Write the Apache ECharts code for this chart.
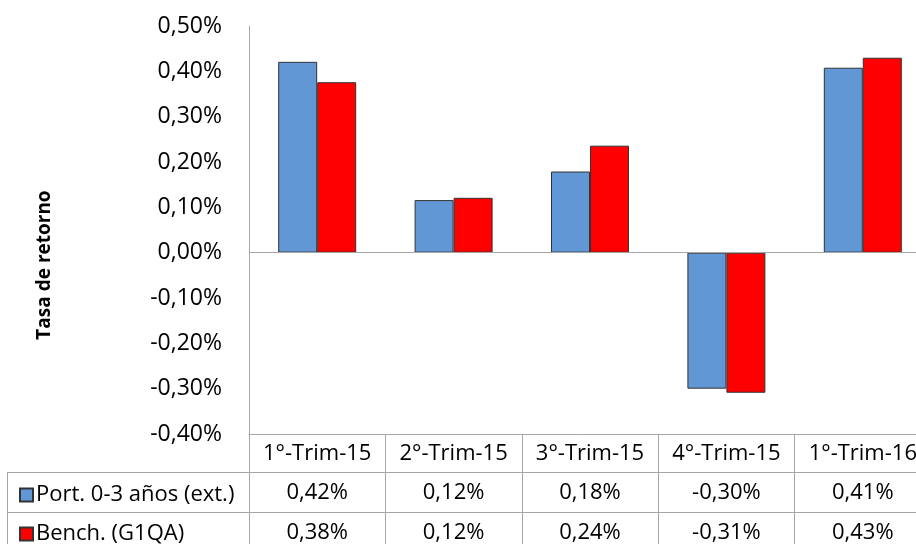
<!DOCTYPE html>
<html>
<head>
<meta charset="utf-8">
<script src="https://cdn.jsdelivr.net/npm/echarts@6/dist/echarts.min.js"></script>
<style>
  html, body { margin: 0; padding: 0; background: #fff; }
  #chart { width: 916px; height: 544px; }
</style>
</head>
<body>
<div id="chart"></div>
<script>
// trimestres
var categories = ['1°-Trim-15', '2°-Trim-15', '3°-Trim-15', '4°-Trim-15', '1°-Trim-16']
var seriesNames = ['Port. 0-3 años (ext.)', 'Bench. (G1QA)']
// tasa de retorno en %
var portValues = [0.421, 0.116, 0.179, -0.300, 0.408]
var benchValues = [0.376, 0.121, 0.236, -0.309, 0.430]
var yTicks = { min: -0.4, max: 0.5, interval: 0.1 }

var gridLine = '#A6A6A6'
var font = '"Open Sans", "Noto Sans", sans-serif'

function pct (v) {
  if (Math.abs(v) < 1e-9) v = 0
  return v.toFixed(2).replace('.', ',') + '%'
}

function legendRow (name, top) {
  return {
    left: 14,
    top: top,
    itemWidth: 13,
    itemHeight: 13,
    icon: 'rect',
    data: [name],
    textStyle: { fontSize: 22, color: '#000', lineHeight: 26, padding: [0, 0, 0, -2] }
  }
}

var chart = echarts.init(document.getElementById('chart'))

chart.setOption({
  animation: false,
  textStyle: { fontFamily: font },
  grid: { left: 249, top: 26, width: 682, height: 408, outerBoundsMode: 'none', containLabel: false },
  legend: [legendRow(seriesNames[0], 477), legendRow(seriesNames[1], 516)],
  xAxis: {
    type: 'category',
    data: categories,
    axisLine: { onZero: false, lineStyle: { color: gridLine } },
    axisTick: { show: true, length: 120, interval: 0, lineStyle: { color: gridLine } },
    axisLabel: {
      margin: 0,
      interval: 0,
      verticalAlign: 'top',
      formatter: function (val, i) {
        return '{c|' + val + '}\n{v|' + pct(portValues[i]) + '}\n{v|' + pct(benchValues[i]) + '}'
      },
      rich: {
        c: { fontSize: 22, color: '#000', lineHeight: 39, fontFamily: font },
        v: { fontSize: 22, color: '#000', lineHeight: 40, fontFamily: font }
      }
    }
  },
  yAxis: {
    type: 'value',
    min: yTicks.min,
    max: yTicks.max,
    interval: yTicks.interval,
    axisLine: { show: true, lineStyle: { color: gridLine } },
    axisTick: { show: false },
    splitLine: { show: false },
    axisLabel: { margin: 27, fontSize: 23, color: '#000', formatter: pct }
  },
  series: [
    {
      name: seriesNames[0],
      type: 'bar',
      data: portValues,
      barWidth: 39,
      barGap: '0%',
      itemStyle: { color: '#6297D6', borderColor: '#333', borderWidth: 1 },
      markLine: {
        silent: true,
        symbol: 'none',
        label: { show: false },
        lineStyle: { color: gridLine, type: 'solid', width: 1 },
        data: [{ yAxis: 0 }]
      }
    },
    {
      name: seriesNames[1],
      type: 'bar',
      data: benchValues,
      barWidth: 39,
      itemStyle: { color: '#FF0000', borderColor: '#333', borderWidth: 1 }
    }
  ],
  graphic: [
    // título del eje
    {
      type: 'text',
      x: 45,
      y: 265,
      rotation: Math.PI / 2,
      style: {
        text: 'Tasa de retorno',
        align: 'center',
        verticalAlign: 'middle',
        font: 'bold 19px ' + font,
        fill: '#000'
      }
    },
    // rejilla de la tabla de datos
    { type: 'line', shape: { x1: 7, y1: 472.5, x2: 931, y2: 472.5 }, style: { stroke: gridLine, lineWidth: 1 } },
    { type: 'line', shape: { x1: 7, y1: 512.5, x2: 931, y2: 512.5 }, style: { stroke: gridLine, lineWidth: 1 } },
    { type: 'line', shape: { x1: 7.5, y1: 472, x2: 7.5, y2: 560 }, style: { stroke: gridLine, lineWidth: 1 } }
  ]
})
</script>
</body>
</html>
